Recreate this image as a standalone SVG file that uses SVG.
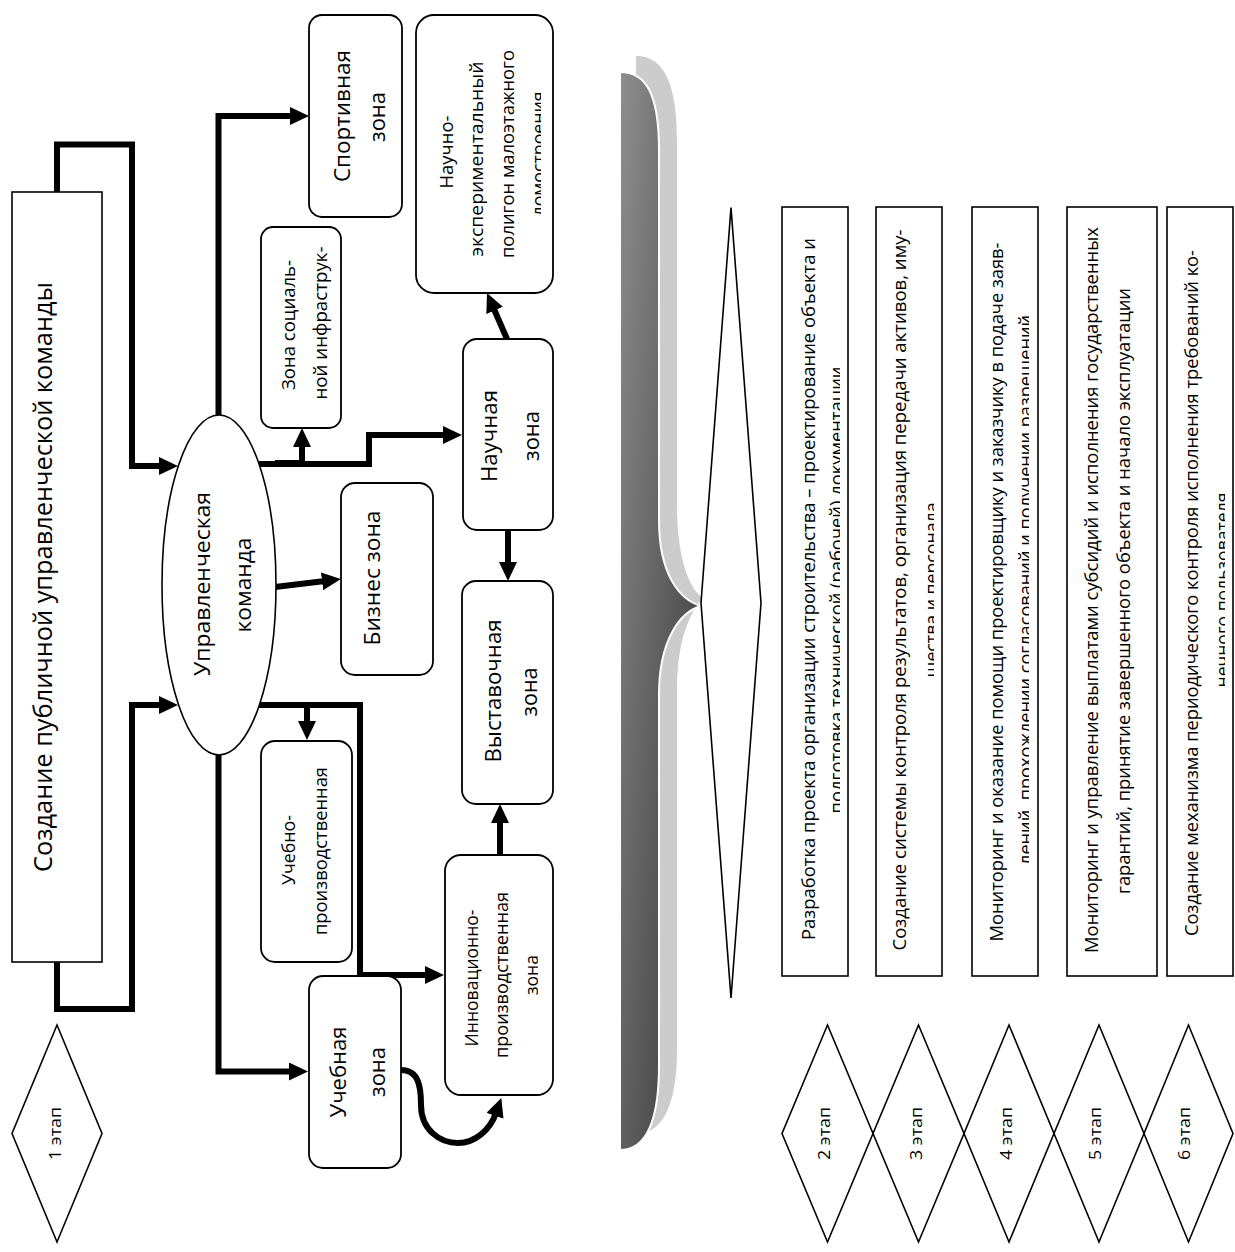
<svg xmlns="http://www.w3.org/2000/svg" width="1235" height="1252" viewBox="0 0 1235 1252">
<defs>
<style>
.t{font-family:"Open Sans","Noto Sans","DejaVu Sans",sans-serif;fill:#000;text-anchor:middle;dominant-baseline:central}
.b{font-size:22px}
.s{font-size:18px}
.e{font-size:17.5px}
.box{fill:#fff;stroke:#000;stroke-width:1.6}
.rb{fill:#fff;stroke:#000;stroke-width:1.8}
.c{fill:none;stroke:#000;stroke-width:6;marker-end:url(#ah)}
.cn{fill:none;stroke:#000;stroke-width:6}
.dm{fill:#fff;stroke:#000;stroke-width:1.6}
</style>
<marker id="ah" markerUnits="userSpaceOnUse" markerWidth="20" markerHeight="20" viewBox="0 0 20 20" refX="3" refY="9" orient="auto"><path d="M0,0 L19,9 L0,18 z" fill="#000"/></marker>
<linearGradient id="g" x1="0" y1="0" x2="1" y2="1"><stop offset="0" stop-color="#8e8e8e"/><stop offset="1" stop-color="#343434"/></linearGradient>
<clipPath id="cpN" clipPathUnits="userSpaceOnUse"><rect x="416" y="15" width="125" height="278"/></clipPath>
<clipPath id="cpI" clipPathUnits="userSpaceOnUse"><rect x="445" y="855" width="93" height="240"/></clipPath>
<clipPath id="cp2" clipPathUnits="userSpaceOnUse"><rect x="782" y="207" width="58" height="769"/></clipPath>
<clipPath id="cp3" clipPathUnits="userSpaceOnUse"><rect x="876" y="207" width="58" height="769"/></clipPath>
<clipPath id="cp4" clipPathUnits="userSpaceOnUse"><rect x="972" y="207" width="57" height="769"/></clipPath>
<clipPath id="cp6" clipPathUnits="userSpaceOnUse"><rect x="1167" y="207" width="58" height="769"/></clipPath>
</defs>
<rect width="1235" height="1252" fill="#fff"/>

<g id="connectors">
<path class="c" d="M57,192 V144.5 H132 V466 H162"/>
<path class="c" d="M57,962 V1009 H132 V705 H162"/>
<path class="c" d="M218.5,415 V116 H293"/>
<path class="c" d="M218.5,755 V1071.5 H292"/>
<path class="c" d="M259,464 H369 V435 H446"/>
<path class="cn" d="M275,463 H305" stroke-width="8"/>
<path class="c" d="M302,464 V444"/>
<path class="c" d="M275,587 L325,581"/>
<path class="c" d="M258,705 H360 V975 H428"/>
<path class="c" d="M307,705 V724"/>
<path class="c" d="M508,530 V565"/>
<path class="c" d="M500,855 V820"/>
<path class="c" d="M507,339 L493.4,307.7"/>
<path class="c" stroke-width="5" d="M401,1070 C418,1070 421,1085 421,1105 C421,1130 440,1143 458,1143 C475,1143 490,1130 496,1113"/>
</g>

<g id="n-title">
<rect class="box" x="12" y="192" width="90" height="770"/>
<text class="t" font-size="25" transform="translate(42,577) rotate(-90)" textLength="590" lengthAdjust="spacingAndGlyphs">Создание публичной управленческой команды</text>
</g>

<g id="n-team">
<ellipse fill="#fff" stroke="#000" stroke-width="1.6" cx="219" cy="585" rx="57" ry="170"/>
<text class="t b" transform="translate(201,584) rotate(-90)" textLength="184" lengthAdjust="spacingAndGlyphs">Управленческая</text>
<text class="t b" transform="translate(242,585) rotate(-90)" textLength="95" lengthAdjust="spacingAndGlyphs">команда</text>
</g>

<g id="n-sport">
<rect class="rb" x="309" y="15" width="93" height="202" rx="13"/>
<text class="t b" transform="translate(341,116) rotate(-90)" textLength="132" lengthAdjust="spacingAndGlyphs">Спортивная</text>
<text class="t b" transform="translate(376,117) rotate(-90)" textLength="50" lengthAdjust="spacingAndGlyphs">зона</text>
</g>

<g id="n-polygon">
<rect class="rb" x="416" y="15" width="137" height="278" rx="18"/>
<g clip-path="url(#cpN)">
<text class="t s" transform="translate(446,152) rotate(-90)" textLength="73" lengthAdjust="spacingAndGlyphs">Научно-</text>
<text class="t s" transform="translate(476,159) rotate(-90)" textLength="195" lengthAdjust="spacingAndGlyphs">экспериментальный</text>
<text class="t s" transform="translate(507,154) rotate(-90)" textLength="208" lengthAdjust="spacingAndGlyphs">полигон малоэтажного</text>
<text class="t s" transform="translate(537.6,154) rotate(-90)" textLength="125" lengthAdjust="spacingAndGlyphs">домостроения</text>
</g>
</g>

<g id="n-social">
<rect class="rb" x="261" y="227" width="80" height="201" rx="12"/>
<text class="t s" transform="translate(288,325) rotate(-90)" textLength="130" lengthAdjust="spacingAndGlyphs">Зона социаль-</text>
<text class="t s" transform="translate(320,323) rotate(-90)" textLength="153" lengthAdjust="spacingAndGlyphs">ной инфраструк-</text>
</g>

<g id="n-science">
<rect class="rb" x="463" y="339" width="90" height="191" rx="14"/>
<text class="t b" transform="translate(488,436) rotate(-90)" textLength="92" lengthAdjust="spacingAndGlyphs">Научная</text>
<text class="t b" transform="translate(530,436) rotate(-90)" textLength="50" lengthAdjust="spacingAndGlyphs">зона</text>
</g>

<g id="n-business">
<rect class="rb" x="341" y="483" width="92" height="192" rx="14"/>
<text class="t b" transform="translate(371,578) rotate(-90)" textLength="135" lengthAdjust="spacingAndGlyphs">Бизнес зона</text>
</g>

<g id="n-expo">
<rect class="rb" x="462" y="581" width="91" height="223" rx="14"/>
<text class="t b" transform="translate(492,691) rotate(-90)" textLength="143" lengthAdjust="spacingAndGlyphs">Выставочная</text>
<text class="t b" transform="translate(528,692) rotate(-90)" textLength="49" lengthAdjust="spacingAndGlyphs">зона</text>
</g>

<g id="n-eduprod">
<rect class="rb" x="261" y="741" width="91" height="221" rx="14"/>
<text class="t s" transform="translate(288,850) rotate(-90)" textLength="70" lengthAdjust="spacingAndGlyphs">Учебно-</text>
<text class="t s" transform="translate(320,851) rotate(-90)" textLength="168" lengthAdjust="spacingAndGlyphs">производственная</text>
</g>

<g id="n-innov">
<rect class="rb" x="445" y="855" width="108" height="240" rx="16"/>
<g clip-path="url(#cpI)">
<text class="t s" transform="translate(471,978) rotate(-90)" textLength="137" lengthAdjust="spacingAndGlyphs">Инновационно-</text>
<text class="t s" transform="translate(501,975) rotate(-90)" textLength="166" lengthAdjust="spacingAndGlyphs">производственная</text>
<text class="t s" transform="translate(530.6,975) rotate(-90)" textLength="40" lengthAdjust="spacingAndGlyphs">зона</text>
</g>
</g>

<g id="n-edu">
<rect class="rb" x="309" y="976" width="92" height="192" rx="14"/>
<text class="t b" transform="translate(337,1072) rotate(-90)" textLength="91" lengthAdjust="spacingAndGlyphs">Учебная</text>
<text class="t b" transform="translate(376,1072) rotate(-90)" textLength="50" lengthAdjust="spacingAndGlyphs">зона</text>
</g>

<g id="n-stage1">
<polygon class="dm" points="57,1025 102,1133.5 57,1242 12,1133.5"/>
<text class="t" font-size="17" transform="translate(54,1133.5) rotate(-90)" textLength="53" lengthAdjust="spacingAndGlyphs">1 этап</text>
</g>

<g id="n-brace">
<path fill="#cccccc" d="M636,56 C660,56 677,76 677,140 L677,505 C677,560 690,590 703,598 C690,612 677,640 677,690 L677,1050 C677,1110 660,1134 636,1134 Z"/>
<path fill="url(#g)" stroke="#fff" stroke-width="2" d="M620,72 C645,72 659,92 659,150 L659,520 C659,575 680,600 701,606 C680,612 659,640 659,695 L659,1065 C659,1125 645,1150 620,1150 Z"/>
</g>

<g id="n-bigdiamond">
<polygon class="dm" stroke-width="2" points="731,207.6 761,603 731,998 701,603"/>
</g>

<g id="n-step2">
<rect class="box" stroke-width="2" x="782" y="207" width="66" height="769"/>
<text class="t e" transform="translate(808,589) rotate(-90)" textLength="702" lengthAdjust="spacingAndGlyphs">Разработка проекта организации строительства – проектирование объекта и</text>
<g clip-path="url(#cp2)"><text class="t e" transform="translate(835.5,590) rotate(-90)" textLength="447" lengthAdjust="spacingAndGlyphs">подготовка технической (рабочей) документации</text></g>
</g>
<g id="n-step3">
<rect class="box" stroke-width="2" x="876" y="207" width="66" height="769"/>
<text class="t e" transform="translate(899,590) rotate(-90)" textLength="721" lengthAdjust="spacingAndGlyphs">Создание системы контроля результатов, организация передачи активов, иму-</text>
<g clip-path="url(#cp3)"><text class="t e" transform="translate(930.6,590) rotate(-90)" textLength="175" lengthAdjust="spacingAndGlyphs">щества и персонала</text></g>
</g>
<g id="n-step4">
<rect class="box" stroke-width="2" x="972" y="207" width="66" height="769"/>
<text class="t e" transform="translate(996,592) rotate(-90)" textLength="699" lengthAdjust="spacingAndGlyphs">Мониторинг и оказание помощи проектировщику и заказчику в подаче заяв-</text>
<g clip-path="url(#cp4)"><text class="t e" transform="translate(1024.6,590) rotate(-90)" textLength="550" lengthAdjust="spacingAndGlyphs">лений, прохождении согласований и получении разрешений</text></g>
</g>
<g id="n-step5">
<rect class="box" stroke-width="2" x="1067" y="207" width="90" height="769"/>
<text class="t e" transform="translate(1091,590) rotate(-90)" textLength="726" lengthAdjust="spacingAndGlyphs">Мониторинг и управление выплатами субсидий и исполнения государственных</text>
<text class="t e" transform="translate(1123,591) rotate(-90)" textLength="606" lengthAdjust="spacingAndGlyphs">гарантий, принятие завершенного объекта и начало эксплуатации</text>
</g>
<g id="n-step6">
<rect class="box" stroke-width="2" x="1167" y="207" width="66" height="769"/>
<text class="t e" transform="translate(1191,593) rotate(-90)" textLength="686" lengthAdjust="spacingAndGlyphs">Создание механизма периодического контроля исполнения требований ко-</text>
<g clip-path="url(#cp6)"><text class="t e" transform="translate(1222,590) rotate(-90)" textLength="195" lengthAdjust="spacingAndGlyphs">нечного пользователя</text></g>
</g>

<g id="n-stages">
<polygon class="dm" points="827.5,1025 873,1133.5 827.5,1242 782,1133.5"/>
<text class="t" font-size="17" transform="translate(823,1133.5) rotate(-90)" textLength="53" lengthAdjust="spacingAndGlyphs">2 этап</text>
<polygon class="dm" points="918.5,1025 964,1133.5 918.5,1242 873,1133.5"/>
<text class="t" font-size="17" transform="translate(915,1133.5) rotate(-90)" textLength="53" lengthAdjust="spacingAndGlyphs">3 этап</text>
<polygon class="dm" points="1009,1025 1054,1133.5 1009,1242 964,1133.5"/>
<text class="t" font-size="17" transform="translate(1005,1133.5) rotate(-90)" textLength="53" lengthAdjust="spacingAndGlyphs">4 этап</text>
<polygon class="dm" points="1099,1025 1144,1133.5 1099,1242 1054,1133.5"/>
<text class="t" font-size="17" transform="translate(1094,1133.5) rotate(-90)" textLength="53" lengthAdjust="spacingAndGlyphs">5 этап</text>
<polygon class="dm" points="1188.5,1025 1233,1133.5 1188.5,1242 1144,1133.5"/>
<text class="t" font-size="17" transform="translate(1183,1133.5) rotate(-90)" textLength="53" lengthAdjust="spacingAndGlyphs">6 этап</text>
</g>
</svg>
